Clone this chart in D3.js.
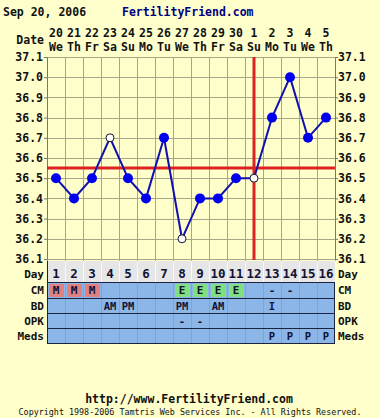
<!DOCTYPE html>
<html>
<head>
<meta charset="utf-8">
<script src="https://cdn.jsdelivr.net/npm/d3@7"></script>
<style>
  body { margin: 0; background: #ffffcc; }
  svg { display: block; }
  text { font-family: "DejaVu Sans Mono", monospace; font-weight: bold; fill: #111; }
</style>
</head>
<body>
<div id="chart"></div>
<script>
// chart data
const days = d3.range(1, 17);
const dates = ["20","21","22","23","24","25","26","27","28","29","30","1","2","3","4","5"];
const weekdays = ["We","Th","Fr","Sa","Su","Mo","Tu","We","Th","Fr","Sa","Su","Mo","Tu","We","Th"];
const temps = [36.5, 36.4, 36.5, 36.7, 36.5, 36.4, 36.7, 36.2, 36.4, 36.4, 36.5, 36.5, 36.8, 37.0, 36.7, 36.8];
const openDays = [4, 8, 12];
const yTicks = [37.1, 37.0, 36.9, 36.8, 36.7, 36.6, 36.5, 36.4, 36.3, 36.2, 36.1];
const coverline = 36.55;
const ovulationDay = 12;
const cm = ["M","M","M","","","","","E","E","E","E","","-","-","",""];
const bd = ["","","","AM","PM","","","PM","","AM","","","I","","",""];
const opk = ["","","","","","","","-","-","","","","","","",""];
const meds = ["","","","","","","","","","","","","P","P","P","P"];

const W = 380, H = 418;
const pLeft = 47, pRight = 335, pTop = 57, pBottom = 259;

const svg = d3.select("#chart").append("svg")
  .attr("width", W).attr("height", H);

svg.append("rect").attr("width", W).attr("height", H).attr("fill", "#ffffcc");

const x = d3.scaleBand().domain(days).range([pLeft, pRight]).padding(0);
const cx = d => x(d) + x.bandwidth() / 2;
const y = d3.scaleLinear().domain([36.1, 37.1]).range([pBottom, pTop]);

// header
svg.append("text").attr("x", 3).attr("y", 16).style("font-size", "11.5px").text("Sep 20, 2006");
svg.append("text").attr("x", 122).attr("y", 16).style("font-size", "11.5px")
  .style("fill", "#000080").text("FertilityFriend.com");

// date header
svg.append("text").attr("x", 44).attr("y", 44).attr("text-anchor", "end")
  .style("font-size", "11.5px").text("Date");
svg.append("g").selectAll("text").data(days).join("text")
  .attr("x", d => cx(d)).attr("y", 37).attr("text-anchor", "middle")
  .style("font-size", "11.5px").text((d, i) => dates[i]);
svg.append("g").selectAll("text").data(days).join("text")
  .attr("x", d => cx(d)).attr("y", 51).attr("text-anchor", "middle")
  .style("font-size", "11.5px").text((d, i) => weekdays[i]);

// grid
const grid = svg.append("g").attr("stroke", "#a8a68a").attr("stroke-width", 1);
grid.selectAll("line.v").data(d3.range(0, 17)).join("line")
  .attr("x1", i => pLeft + i * x.bandwidth() + 0.5).attr("x2", i => pLeft + i * x.bandwidth() + 0.5)
  .attr("y1", pTop).attr("y2", pBottom + 2);
grid.selectAll("line.h").data(yTicks).join("line")
  .attr("x1", pLeft).attr("x2", pRight)
  .attr("y1", d => Math.round(y(d)) + 0.5).attr("y2", d => Math.round(y(d)) + 0.5);

// axes
const yl = d3.axisLeft(y).tickValues(yTicks).tickFormat(d3.format(".1f")).tickSize(3);
const yr = d3.axisRight(y).tickValues(yTicks).tickFormat(d3.format(".1f")).tickSize(3);
const ga = svg.append("g").attr("transform", `translate(${pLeft},0)`).call(yl);
const gb = svg.append("g").attr("transform", `translate(${pRight},0)`).call(yr);
[ga, gb].forEach(g => {
  g.select(".domain").attr("stroke", "#777");
  g.selectAll(".tick line").attr("stroke", "#777");
  g.selectAll(".tick text").style("font-size", "11.5px").attr("fill", "#111")
    .style("font-family", "'DejaVu Sans Mono', monospace").style("font-weight", "bold");
});
ga.selectAll(".tick text").attr("x", -4);
gb.selectAll(".tick text").attr("x", 3);

// coverline and ovulation line
svg.append("line").attr("x1", pLeft).attr("x2", pRight)
  .attr("y1", y(coverline)).attr("y2", y(coverline))
  .attr("stroke", "#dd2222").attr("stroke-width", 3);
svg.append("line").attr("x1", cx(ovulationDay)).attr("x2", cx(ovulationDay))
  .attr("y1", pTop).attr("y2", pBottom + 1)
  .attr("stroke", "#dd2222").attr("stroke-width", 3);

// temperature line
const line = d3.line().x((d, i) => cx(days[i])).y(d => y(d));
svg.append("path").datum(temps).attr("fill", "none")
  .attr("stroke", "#1010b0").attr("stroke-width", 2).attr("d", line);
svg.append("g").selectAll("circle").data(temps).join("circle")
  .attr("cx", (d, i) => cx(days[i])).attr("cy", d => y(d))
  .attr("r", (d, i) => openDays.includes(days[i]) ? 4 : 5)
  .attr("fill", (d, i) => openDays.includes(days[i]) ? "#ffffff" : "#0000ee")
  .attr("stroke", (d, i) => openDays.includes(days[i]) ? "#111133" : "none")
  .attr("stroke-width", 1);

// table
const rowTop = 261;
const rows = [
  { label: "Day", vals: days.map(String), y0: rowTop, h: 21, bg: "#e6e6e6", size: "12.5px", dy: 6 },
  { label: "CM", vals: cm, y0: 282, h: 16, bg: "#8db6e8", size: "11px", dy: 4 },
  { label: "BD", vals: bd, y0: 298, h: 15, bg: "#8db6e8", size: "10.5px", dy: 4 },
  { label: "OPK", vals: opk, y0: 313, h: 15, bg: "#8db6e8", size: "10.5px", dy: 4 },
  { label: "Meds", vals: meds, y0: 328, h: 15, bg: "#8db6e8", size: "10.5px", dy: 4 }
];
const cellColor = v => v === "M" ? "#e08080" : v === "E" ? "#80e080" : null;

rows.forEach(r => {
  const g = svg.append("g");
  g.append("rect").attr("x", pLeft).attr("y", r.y0).attr("width", pRight - pLeft).attr("height", r.h)
    .attr("fill", r.bg);
  g.selectAll("rect.c").data(days.filter((d, i) => cellColor(r.vals[i]))).join("rect")
    .attr("x", d => x(d) + 2).attr("y", r.y0 + 2)
    .attr("width", x.bandwidth() - 3).attr("height", r.h - 3)
    .attr("fill", d => cellColor(r.vals[d - 1]));
  g.selectAll("line").data(d3.range(1, 16)).join("line")
    .attr("x1", i => pLeft + i * x.bandwidth() + 0.5).attr("x2", i => pLeft + i * x.bandwidth() + 0.5)
    .attr("y1", r.y0).attr("y2", r.y0 + r.h)
    .attr("stroke", r.label === "Day" ? "#fafaf0" : "#7ea4d6").attr("stroke-width", 1);
  g.selectAll("text").data(days).join("text")
    .attr("x", d => cx(d)).attr("y", r.y0 + r.h / 2 + r.dy).attr("text-anchor", "middle")
    .style("font-size", r.size).style("fill", "#111133").text((d, i) => r.vals[i]);
  svg.append("text").attr("x", 44).attr("y", r.y0 + r.h / 2 + r.dy).attr("text-anchor", "end")
    .style("font-size", "11px").text(r.label);
  svg.append("text").attr("x", 338).attr("y", r.y0 + r.h / 2 + r.dy)
    .style("font-size", "11px").text(r.label);
});

// table borders
const tb = svg.append("g").attr("stroke", "#1a2440").attr("stroke-width", 1);
[282, 298, 313, 328, 343].forEach(yy => {
  tb.append("line").attr("x1", pLeft).attr("x2", pRight).attr("y1", yy + 0.5).attr("y2", yy + 0.5);
});
tb.append("line").attr("x1", pLeft + 0.5).attr("x2", pLeft + 0.5).attr("y1", rowTop).attr("y2", 343.5);
tb.append("line").attr("x1", pRight - 0.5).attr("x2", pRight - 0.5).attr("y1", 282).attr("y2", 343.5);

// footer
svg.append("text").attr("x", 189).attr("y", 403).attr("text-anchor", "middle")
  .style("font-size", "11.5px").text("http://www.FertilityFriend.com");
svg.append("text").attr("x", 190).attr("y", 415).attr("text-anchor", "middle")
  .style("font-size", "8.4px").style("font-weight", "normal")
  .text("Copyright 1998-2006 Tamtris Web Services Inc. - All Rights Reserved.");
</script>
</body>
</html>
